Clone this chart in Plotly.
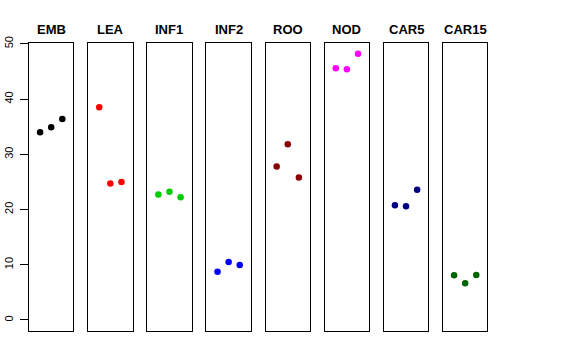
import plotly.graph_objects as go

groups = ["EMB", "LEA", "INF1", "INF2", "ROO", "NOD", "CAR5", "CAR15"]
colors = ["#000000", "#FF0000", "#00CD00", "#0000FF", "#8B0000", "#FF00FF", "#000080", "#006400"]
rep_x = [1, 2, 3]
values = [
    [34.0, 34.9, 36.4],
    [38.5, 24.7, 25.0],
    [22.7, 23.2, 22.2],
    [8.75, 10.5, 9.95],
    [27.8, 31.8, 25.8],
    [45.6, 45.4, 48.2],
    [20.75, 20.6, 23.6],
    [8.08, 6.63, 8.14],
]
y_ticks = [0, 10, 20, 30, 40, 50]

W, H = 576, 360
left0, step, pw = 29.0, 59.14, 44.4
top_px, bot_px = 43.3, 331.0

fig = go.Figure()
for i, (g, c, v) in enumerate(zip(groups, colors, values)):
    xa = "x" if i == 0 else f"x{i+1}"
    ya = "y" if i == 0 else f"y{i+1}"
    fig.add_trace(go.Scatter(x=rep_x, y=v, mode="markers",
                             marker=dict(color=c, size=6.5, line=dict(width=0)),
                             xaxis=xa, yaxis=ya, showlegend=False, hoverinfo="skip"))
    x0 = (left0 + i * step) / W
    x1 = (left0 + i * step + pw) / W
    xkey = "xaxis" if i == 0 else f"xaxis{i+1}"
    ykey = "yaxis" if i == 0 else f"yaxis{i+1}"
    fig.layout[xkey] = dict(domain=[x0, x1], range=[0, 4], showgrid=False, zeroline=False,
                            showticklabels=False, ticks="", showline=True, mirror=True,
                            linecolor="#000000", linewidth=1, anchor=ya, automargin=False)
    yd = dict(domain=[1 - bot_px / H, 1 - top_px / H], range=[-2.0, 50.1], showgrid=False,
              zeroline=False, showline=True, mirror=True, linecolor="#000000", linewidth=1,
              anchor=xa, automargin=False)
    if i == 0:
        yd.update(tickmode="array", tickvals=y_ticks, ticktext=[str(t) for t in y_ticks],
                  ticks="outside", ticklen=8, tickcolor="#000000", tickangle=-90,
                  ticklabelstandoff=3,
                  tickfont=dict(family="Liberation Sans, Arial, sans-serif", size=11, color="#000000"))
    else:
        yd.update(showticklabels=False, ticks="")
    fig.layout[ykey] = yd
    fig.add_annotation(text=f"<b>{g}</b>", x=(x0 + x1) / 2, y=1 - 29 / H, xref="paper", yref="paper",
                       showarrow=False, xanchor="center", yanchor="middle",
                       font=dict(family="Liberation Sans, Arial, sans-serif", size=13, color="#000000"))

fig.update_layout(width=W, height=H, margin=dict(l=0, r=0, t=0, b=0, autoexpand=False),
                  paper_bgcolor="white", plot_bgcolor="white")
fig.write_html("out.html", config={"displayModeBar": False},
               post_script="document.body.style.margin='0';")
